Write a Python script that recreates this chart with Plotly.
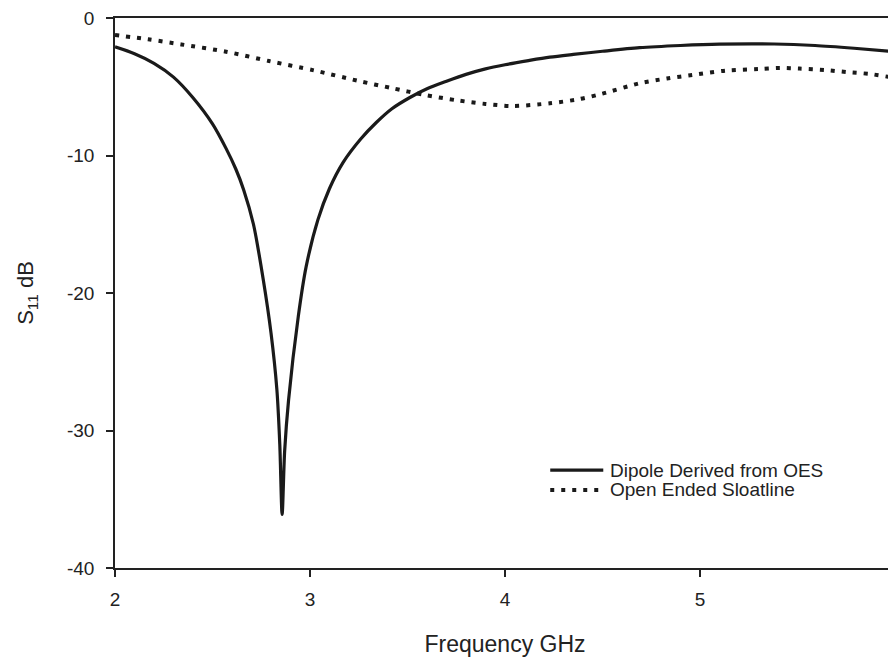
import plotly.graph_objects as go

dipole_freq = [2.0, 2.1, 2.2, 2.3, 2.4, 2.5, 2.57, 2.62, 2.66, 2.71, 2.76, 2.80, 2.83, 2.845, 2.857,
               2.87, 2.89, 2.94, 2.98, 3.04, 3.10, 3.17, 3.26, 3.34, 3.42, 3.51, 3.6, 3.7, 3.8,
               3.9, 4.0, 4.12, 4.23, 4.35, 4.5, 4.69, 4.9, 5.1, 5.38, 5.59, 5.79, 6.0]
dipole_s11 = [-2.1, -2.6, -3.3, -4.3, -5.8, -7.7, -9.5, -11.0, -12.5, -15.0, -19.0, -22.9, -27.0, -31.0, -36.1,
              -31.5, -27.8, -21.7, -18.1, -14.7, -12.4, -10.5, -8.8, -7.6, -6.6, -5.8, -5.15, -4.6, -4.1,
              -3.7, -3.4, -3.1, -2.85, -2.65, -2.42, -2.16, -2.0, -1.9, -1.89, -2.0, -2.2, -2.45]

oes_freq = [2.0, 2.17, 2.34, 2.57, 2.79, 3.02, 3.25, 3.42, 3.59, 3.76, 3.9, 4.04, 4.23, 4.38,
            4.5, 4.69, 4.83, 4.96, 5.13, 5.30, 5.41, 5.51, 5.64, 5.75, 5.87, 5.98, 6.0]
oes_s11 = [-1.24, -1.55, -1.92, -2.45, -3.13, -3.81, -4.58, -5.1, -5.6, -6.0, -6.25, -6.4, -6.2, -5.9,
           -5.5, -4.75, -4.4, -4.15, -3.83, -3.71, -3.63, -3.68, -3.78, -3.93, -4.07, -4.31, -4.35]

series_names = ["Dipole Derived from OES", "Open Ended Sloatline"]
x_ticks = [2, 3, 4, 5, 6]
y_ticks = [0, -10, -20, -30, -40]

FONT = "Liberation Sans, Arial, sans-serif"
INK = "#1a1a1a"

fig = go.Figure()
fig.add_trace(go.Scatter(x=dipole_freq, y=dipole_s11, mode="lines",
                         line=dict(color=INK, width=3.2, shape="spline", smoothing=0.8),
                         name=series_names[0]))
fig.add_trace(go.Scatter(x=oes_freq, y=oes_s11, mode="lines",
                         line=dict(color=INK, width=4, dash="4px,7px", shape="spline", smoothing=0.8),
                         name=series_names[1]))

# manual legend (paper coordinates)
legend_rows = [0.178, 0.142]
legend_dash = ["solid", "4px,7px"]
legend_width = [3.2, 4]
for name, yy, dsh, w in zip(series_names, legend_rows, legend_dash, legend_width):
    fig.add_shape(type="line", xref="paper", yref="paper", x0=0.558, x1=0.626, y0=yy, y1=yy,
                  line=dict(color=INK, width=w, dash=dsh))
    fig.add_annotation(xref="paper", yref="paper", x=0.632, y=yy, xanchor="left", yanchor="middle",
                       text=name, showarrow=False, font=dict(family=FONT, size=19, color="#222222"))

axis_font = dict(family=FONT, size=19, color="#222222")
common = dict(showgrid=False, zeroline=False, showline=True, linecolor="#222222", linewidth=1.5,
              mirror=True, ticks="outside", ticklen=7, tickwidth=1.5, tickcolor="#222222",
              tickfont=axis_font, automargin=False, ticklabeloverflow="allow")
# the page body has an 8px margin, so the figure is sized/margined to compensate
fig.update_layout(
    width=888, height=649,
    margin=dict(l=107, r=1, t=10, b=89),
    paper_bgcolor="white", plot_bgcolor="white",
    showlegend=False,
    xaxis=dict(range=[2, 6], tickvals=x_ticks, ticktext=[str(v) for v in x_ticks],
               ticklabelstandoff=6,
               title=dict(text="Frequency GHz", font=dict(family=FONT, size=23, color="#222222"), standoff=29),
               **common),
    yaxis=dict(range=[-40, 0], tickvals=y_ticks, ticktext=[str(v) for v in y_ticks],
               ticklabelstandoff=8,
               title=dict(text="S<sub>11</sub> dB", font=dict(family=FONT, size=22, color="#222222"), standoff=27),
               **common),
)

fig.write_html("out.html")
